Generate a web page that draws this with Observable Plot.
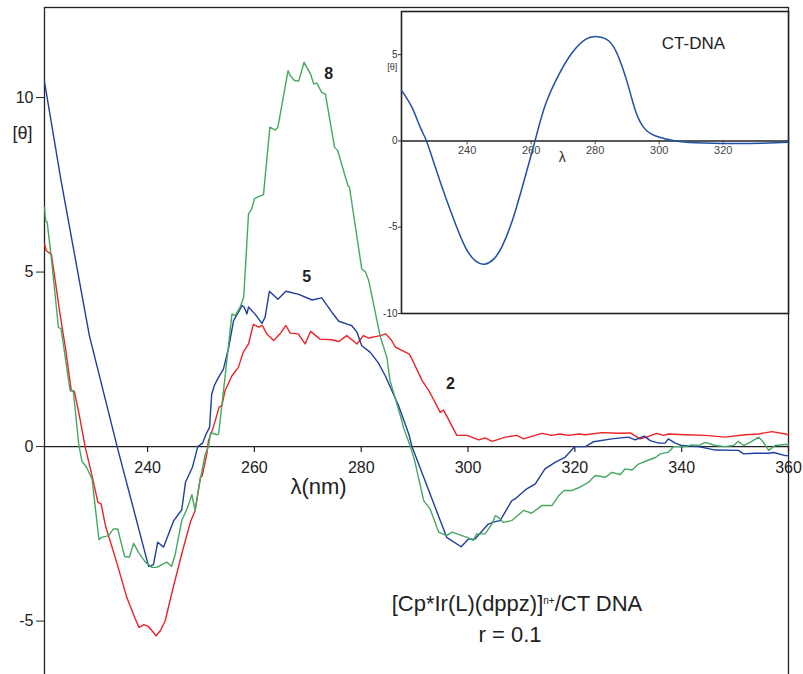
<!DOCTYPE html>
<html><head><meta charset="utf-8">
<script src="https://cdn.jsdelivr.net/npm/d3@7"></script>
<script src="https://cdn.jsdelivr.net/npm/@observablehq/plot@0.6"></script>
<style>
html,body{margin:0;padding:0;background:#fff;overflow:hidden;}
#wrap{position:relative;width:803px;height:674px;font-family:"Liberation Sans",Arial,sans-serif;color:#222;}
#wrap svg{position:absolute;}
.cap{position:absolute;width:400px;text-align:center;font-size:22px;line-height:22px;white-space:nowrap;}
.cap sup{font-size:10px;vertical-align:top;position:relative;top:-3px;}
</style></head><body><div id="wrap"></div>
<script>
// ---------- main chart data: [Cp*Ir(L)(dppz)]n+ / CT DNA, r = 0.1 ----------
const blueLambda = [220.7,223.8,229.1,234.3,240.2,241.1,241.9,243.0,244.9,246.4,247.1,248.4,249.4,250.3,250.9,251.6,252.0,252.5,253.2,254.2,255.2,256.1,257.7,258.1,258.6,258.9,260.2,261.4,262.0,262.8,264.4,265.9,268.3,270.8,272.6,274.5,275.8,277.5,278.2,279.2,280.1,281.7,283.2,284.5,287.0,288.9,289.5,296.0,298.7,300.1,301.3,303.8,305.1,306.0,308.2,308.8,311.0,312.6,314.4,316.3,318.2,320.0,322.0,323.5,326.9,330.0,331.3,333.0,334.1,335.7,336.9,337.5,338.8,340.0,343.2,346.3,350.6,351.6,353.7,356.3,357.2,359.4,360];
const blueTheta = [10.45,7.62,3.18,0,-3.44,-3.38,-2.74,-2.88,-2.12,-1.81,-1.02,-0.59,0,0.1,0.34,0.55,1.5,1.75,1.96,2.22,2.85,3.61,4.04,3.99,3.80,4.0,3.78,3.53,3.7,4.45,4.22,4.45,4.36,4.2,4.26,3.85,3.59,3.5,3.47,3.28,2.89,2.7,2.4,2.03,1.17,0.36,0,-2.6,-2.87,-2.65,-2.65,-2.22,-2.15,-2.12,-1.55,-1.5,-1.21,-1.07,-0.64,-0.45,-0.3,0,0,0.14,0.22,0.27,0.19,0.3,0.17,0.1,0.1,0.22,0.1,0.03,0,-0.1,-0.11,-0.21,-0.19,-0.19,-0.17,-0.26,-0.26];

const redLambda = [220.7,221.0,222.0,222.7,223.6,224.6,225.7,226.3,227.4,228.3,229.6,230.7,231.3,232.1,234.3,236.1,237.7,238.4,239.3,240.2,241.6,242.4,243.3,244.5,246.4,248.0,248.9,249.9,250.2,251.1,251.4,252.4,253.4,253.9,254.5,255.8,257.0,257.9,258.9,259.8,260.8,261.5,262.3,263.6,264.8,265.9,266.7,268.2,269.5,270.5,272.3,274.5,275.8,277.3,279.2,280.4,281.4,283.6,284.6,285.7,286.4,289.0,289.5,291.4,292.6,294.8,295.4,297.9,299.8,302.0,303.2,304.5,307.0,309.1,310.4,313.8,315.7,317.2,318.8,320.7,322.0,325.0,328.2,330.4,332.2,333.8,335.3,336.6,337.5,340.6,344.4,348.1,351.9,354.4,356.9,359.4,360];
const redTheta = [5.81,5.62,5.5,4.76,3.8,2.85,1.62,1.58,0.75,0,-0.83,-1.6,-1.64,-2.26,-3.36,-4.32,-4.94,-5.18,-5.1,-5.16,-5.42,-5.27,-4.99,-4.22,-3.07,-2.17,-1.83,-0.88,-0.85,-0.21,0.17,0.6,1.13,1.17,1.6,2.03,2.27,2.7,2.94,3.5,3.42,3.47,3.23,3.04,3.23,3.47,3.25,3.23,2.94,3.3,3.08,3.06,3.01,3.18,2.94,3.18,3.11,3.18,3.23,3.04,2.85,2.65,2.51,1.89,1.62,0.98,1.05,0.32,0.32,0.19,0.25,0.15,0.27,0.32,0.22,0.38,0.32,0.36,0.32,0.36,0.34,0.4,0.38,0.39,0.22,0.29,0.38,0.32,0.36,0.34,0.32,0.27,0.34,0.36,0.43,0.36,0.34];

const greenLambda = [220.7,220.9,221.2,222.1,223.3,223.8,225.5,226.1,227.1,227.7,228.6,229.6,230.9,231.4,232.7,233.6,234.4,235.7,236.6,237.4,238.3,239.6,240.8,241.7,243.6,244.5,245.2,246.4,247.5,248.3,248.9,249.7,250.8,251.4,251.8,253.0,253.3,254.5,255.8,256.4,257.3,258.0,258.9,259.5,260.0,260.4,261.7,262.9,263.9,264.4,266.3,266.7,267.5,268.3,269.3,270.5,271.1,271.7,272.6,273.3,275.0,275.6,277.5,277.8,280.1,280.8,281.4,283.2,283.6,284.8,285.4,287.6,287.9,289.2,290.0,291.7,292.9,294.5,296.0,297.0,299.8,301.0,301.6,303.2,304.5,305.1,305.7,306.6,308.2,310.4,311.9,313.8,315.7,317.0,318.0,319.4,320.7,322.6,323.8,325.7,326.9,328.5,329.4,330.7,331.9,333.2,335.0,336.0,337.5,338.5,340.6,341.9,343.2,344.4,346.3,348.1,349.7,350.6,351.6,352.8,354.4,355.1,356.3,357.5,359.4,360];
const greenTheta = [6.86,6.48,6.43,5.23,3.42,3.37,1.6,1.58,0.08,-0.42,-0.6,-0.93,-2.67,-2.6,-2.55,-2.36,-2.36,-3.15,-3.17,-2.77,-3.03,-3.31,-3.46,-3.46,-3.31,-3.43,-3.07,-2.12,-1.74,-1.38,-1.83,-1.07,-0.21,0.0,0.4,0.34,0.36,1.99,3.8,3.75,3.99,4.28,6.67,6.81,7.1,7.13,7.22,9.15,9.07,9.15,10.77,10.63,10.49,10.47,11.01,10.68,10.39,10.41,10.15,10.1,8.58,8.48,7.48,7.43,5.09,5.0,4.76,3.42,3.13,2.56,1.89,0.74,0.55,0,-0.4,-1.55,-1.79,-2.45,-2.55,-2.45,-2.6,-2.69,-2.5,-2.5,-2.21,-1.98,-2.03,-2.17,-2.12,-1.83,-1.91,-1.69,-1.69,-1.4,-1.26,-1.26,-1.18,-1.02,-0.83,-0.88,-0.74,-0.8,-0.64,-0.67,-0.5,-0.42,-0.32,-0.21,-0.16,0,0,0.05,0.03,0.12,0.03,0,0.03,0.15,0.03,0.12,0.27,0.17,-0.11,0.03,0.06,0.06];

const seriesNames = ["2", "5", "8"];
const seriesColors = ["#ec2227", "#1f3e9e", "#45a862"];
const seriesLabelLambda = [296.7, 269.8, 273.9];
const seriesLabelTheta = [1.8, 4.87, 10.69];

const mainXTicks = [240, 260, 280, 300, 320, 340, 360];
const mainYTicks = [-5, 0, 5, 10];

// ---------- inset data: CT-DNA ----------
const ctLambda = [219.5,222.8,225.4,227.3,230.1,233.3,236.4,239.5,242.6,245.5,248.3,251.0,254.1,257.2,261.2,264.5,268.7,272.8,277.0,280.7,284.3,287.4,290.5,292.6,295.2,298.9,305.1,311.4,321.8,332.2,340.4];
const ctTheta = [2.93,1.93,0.77,0,-1.54,-3.28,-4.83,-6.18,-6.95,-7.14,-6.85,-6.08,-4.63,-2.7,0,2.12,3.86,5.11,5.89,6.04,5.79,4.82,3.09,1.74,0.77,0.29,0,-0.1,-0.15,-0.13,-0.08];
const insetXTicks = [240, 260, 280, 300, 320];
const insetYTicks = [-10, -5, 0, 5];

// ---------- build ----------
const rows = (ls, ts) => ls.map((x, i) => ({x, y: ts[i]}));
const series = [
  {name: "2", data: rows(redLambda, redTheta), color: seriesColors[0]},
  {name: "5", data: rows(blueLambda, blueTheta), color: seriesColors[1]},
  {name: "8", data: rows(greenLambda, greenTheta), color: seriesColors[2]}
];
const labelRows = seriesNames.map((n, i) => ({x: seriesLabelLambda[i], y: seriesLabelTheta[i], t: n}));
const font = "'Liberation Sans', Arial, Helvetica, sans-serif";

const main = Plot.plot({
  width: 803, height: 674,
  marginLeft: 44, marginRight: 15, marginTop: 7, marginBottom: 0,
  style: {fontFamily: font, fontSize: "16px", background: "transparent", color: "#222", overflow: "visible"},
  x: {domain: [220.7, 360], axis: null},
  y: {domain: [-6.53, 12.58], ticks: mainYTicks, tickSize: 8, tickPadding: 3, tickFormat: d => String(d), label: null},
  marks: [
    Plot.frame({stroke: "#222", strokeWidth: 1.3, insetBottom: -6}),
    Plot.ruleY([0], {stroke: "#222", strokeWidth: 1.3}),
    Plot.ruleX(mainXTicks, {x: d => d, y1: 0, y2: 0, insetBottom: -6, stroke: "#222", strokeWidth: 1.2}),
    Plot.text(mainXTicks, {x: d => d, y: 0, dy: 21, text: d => String(d), fontSize: 16, fill: "#222"}),
    ...series.map(s => Plot.line(s.data, {x: "x", y: "y", stroke: s.color, strokeWidth: 1.4})),
    Plot.text(labelRows, {x: "x", y: "y", text: "t", fontSize: 16, fontWeight: "bold", fill: "#222"}),
    Plot.text(["λ(nm)"], {x: 272.0, y: -1.15, text: d => d, fontSize: 22, fill: "#222"}),
    Plot.text(["[θ]"], {x: 216.6, y: 8.97, text: d => d, fontSize: 18, fill: "#222", clip: false})
  ]
});

const ctRows = rows(ctLambda, ctTheta);
const inset = Plot.plot({
  width: 420, height: 315,
  marginLeft: 26, marginRight: 7, marginTop: 6, marginBottom: 7,
  style: {fontFamily: font, fontSize: "10px", background: "transparent", color: "#333", overflow: "visible"},
  x: {domain: [219.5, 340.4], axis: null},
  y: {domain: [-10, 7.5], ticks: insetYTicks, tickSize: 3, tickPadding: 1, tickFormat: d => String(d), label: null},
  marks: [
    Plot.frame({fill: "white", stroke: "#222", strokeWidth: 1.6}),
    Plot.ruleY([0], {stroke: "#222", strokeWidth: 1.4}),
    Plot.ruleX(insetXTicks, {x: d => d, y1: 0, y2: 0, insetBottom: -4, stroke: "#444"}),
    Plot.text(insetXTicks, {x: d => d, y: 0, dy: 10, text: d => String(d), fontSize: 11, fill: "#444"}),
    Plot.line(ctRows, {x: "x", y: "y", curve: "natural", stroke: "#1f4fa6", strokeWidth: 1.5}),
    Plot.text(["CT-DNA"], {x: 310.7, y: 5.62, text: d => d, fontSize: 17, fill: "#222"}),
    Plot.text(["λ"], {x: 269.7, y: -0.98, text: d => d, fontSize: 14, fill: "#333"}),
    Plot.text(["[θ]"], {x: 216.6, y: 4.25, text: d => d, fontSize: 9, fill: "#333"})
  ]
});

const wrap = document.getElementById("wrap");
main.style.left = "0px"; main.style.top = "0px";
inset.style.left = "375px"; inset.style.top = "5px";
wrap.appendChild(main);
wrap.appendChild(inset);

const cap1 = document.createElement("div");
cap1.className = "cap";
cap1.style.left = (517 - 200) + "px"; cap1.style.top = "593px";
cap1.innerHTML = "[Cp*Ir(L)(dppz)]<sup>n+</sup>/CT DNA";
const cap2 = document.createElement("div");
cap2.className = "cap";
cap2.style.left = (510 - 200) + "px"; cap2.style.top = "624px";
cap2.textContent = "r = 0.1";
wrap.appendChild(cap1);
wrap.appendChild(cap2);
</script></body></html>
